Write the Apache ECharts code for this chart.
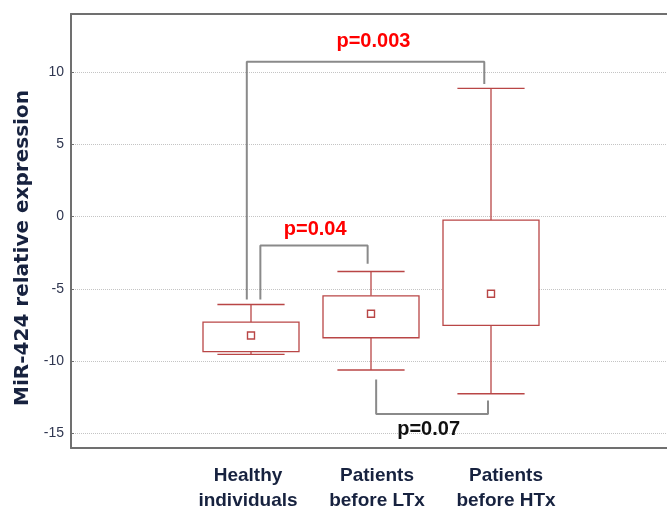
<!DOCTYPE html>
<html><head><meta charset="utf-8">
<script src="https://cdn.jsdelivr.net/npm/echarts@6/dist/echarts.min.js"></script>
<style>html,body{margin:0;padding:0;background:#fff}#c{width:667px;height:506px}</style>
</head><body><div id="c"></div>
<script>
// ---- data ----
const categories = ['', 'Healthy\nindividuals', 'Patients\nbefore LTx', 'Patients\nbefore HTx', ''];
const groupIndex = [1, 2, 3];
const whiskerLow = [-9.53, -10.61, -12.25];
const boxLow = [-9.34, -8.38, -7.53];
const means = [-8.22, -6.72, -5.34];
const boxHigh = [-7.30, -5.48, -0.25];
const whiskerHigh = [-6.08, -3.80, 8.86];
const yTicks = [-15, -10, -5, 0, 5, 10];
// significance brackets (x in category-index units, y in expression units)
const bracket1X = [0.965, 0.965, 2.944, 2.944];
const bracket1Y = [-5.73, 10.70, 10.70, 9.16];
const bracket2X = [1.078, 1.078, 1.972, 1.972];
const bracket2Y = [-5.73, -2.00, -2.00, -3.27];
const bracket3X = [2.043, 2.043, 2.975, 2.975];
const bracket3Y = [-11.26, -13.65, -13.65, -12.71];
const pLabels = ['p=0.003', 'p=0.04', 'p=0.07'];
const pLabelX = [2.02, 1.535, 2.48];
const pLabelY = [12.1, -0.9, -14.75];

// ---- styles ----
const boxColor = '#b94646';
const bracketColor = '#8a8a8a';
const pColors = ['#ff0000', '#ff0000', '#111111'];
const navy = '#17223f';

const boxData = groupIndex.map((g, i) => [g, whiskerLow[i], boxLow[i], means[i], boxHigh[i], whiskerHigh[i]]);
const zip = (xs, ys) => xs.map((x, i) => [x, ys[i]]);
const textData = pLabels.map((t, i) => [pLabelX[i], pLabelY[i], i]);

const chart = echarts.init(document.getElementById('c'), null, {renderer: 'canvas'});
const labelBase = {fontFamily: 'Liberation Sans', fontWeight: 'bold', fontSize: 19, color: navy, lineHeight: 25};
const axisLineStyle = {color: '#707070', width: 2};

function bracket(data) {
  return {type: 'line', xAxisIndex: 2, yAxisIndex: 0, data, symbol: 'none', silent: true,
    lineStyle: {color: bracketColor, width: 2}, z: 3, animation: false};
}

chart.setOption({
  animation: false,
  grid: {left: 71, right: -4, top: 14, bottom: 58, containLabel: false, outerBoundsMode: 'none'},
  xAxis: [
    {type: 'category', data: categories, position: 'bottom',
     axisLine: {onZero: false, lineStyle: axisLineStyle}, axisTick: {inside: true, alignWithLabel: true, length: 4, lineStyle: {color: '#707070'}},
     splitLine: {show: false},
     axisLabel: {interval: 0, margin: 15,
       formatter: (v, i) => { if (!v) return ''; const k = ['', 'a', 'b', 'c', ''][i]; return v.split('\n').map(s => '{' + k + '|' + s + '}').join('\n'); },
       rich: {a: Object.assign({}, labelBase, {padding: [0, 6, 0, 0]}),
              b: Object.assign({}, labelBase, {padding: [0, 0, 0, 12]}),
              c: Object.assign({}, labelBase, {padding: [0, 0, 0, 30]})}}},
    {type: 'category', data: categories, position: 'top',
     axisLine: {onZero: false, lineStyle: axisLineStyle}, axisTick: {inside: true, alignWithLabel: true, length: 4, lineStyle: {color: '#707070'}},
     axisLabel: {show: false}, splitLine: {show: false}},
    {type: 'value', min: -0.5, max: 4.5, show: false, axisLine: {onZero: false}}
  ],
  yAxis: [{
    type: 'value', min: -16, max: 14, splitNumber: 6, position: 'left',
    name: 'MiR-424 relative expression', nameLocation: 'middle', nameGap: 37,
    nameTextStyle: {fontFamily: 'DejaVu Sans', fontWeight: 'bold', fontSize: 20, color: navy, padding: [0, 34, 0, 0]},
    axisLine: {show: true, onZero: false, lineStyle: axisLineStyle},
    axisTick: {show: true, inside: true, length: 3, lineStyle: {color: '#707070'}},
    axisLabel: {margin: 7, fontFamily: 'Liberation Sans', fontSize: 14, color: '#2f3650',
      showMinLabel: false, showMaxLabel: false,
      formatter: v => yTicks.indexOf(v) >= 0 ? String(v) : ''},
    splitLine: {show: true, lineStyle: {color: '#c4c4c4', type: 'dotted', width: 1}}
  }],
  series: [
    {type: 'custom', xAxisIndex: 0, yAxisIndex: 0, data: boxData, z: 4,
     encode: {x: 0, y: [1, 2, 3, 4, 5]},
     renderItem: function (params, api) {
       const x = api.value(0);
       const band = api.size([1, 0])[0];
       const boxW = band * 0.8, capW = band * 0.56;
       const wl = api.coord([x, api.value(1)]);
       const bl = api.coord([x, api.value(2)]);
       const m = api.coord([x, api.value(3)]);
       const bh = api.coord([x, api.value(4)]);
       const wh = api.coord([x, api.value(5)]);
       const cx = wl[0];
       const st = {stroke: boxColor, lineWidth: 1.3, fill: null};
       return {type: 'group', children: [
         {type: 'line', shape: {x1: cx, y1: wh[1], x2: cx, y2: bh[1]}, style: st},
         {type: 'line', shape: {x1: cx, y1: bl[1], x2: cx, y2: wl[1]}, style: st},
         {type: 'line', shape: {x1: cx - capW / 2, y1: wh[1], x2: cx + capW / 2, y2: wh[1]}, style: st},
         {type: 'line', shape: {x1: cx - capW / 2, y1: wl[1], x2: cx + capW / 2, y2: wl[1]}, style: st},
         {type: 'rect', shape: {x: cx - boxW / 2, y: bh[1], width: boxW, height: bl[1] - bh[1]}, style: {stroke: boxColor, lineWidth: 1.3, fill: '#fff'}},
         {type: 'rect', shape: {x: cx - 3.5, y: m[1] - 3.5, width: 7, height: 7}, style: {stroke: boxColor, lineWidth: 1.4, fill: '#fff'}}
       ]};
     }},
    bracket(zip(bracket1X, bracket1Y)),
    bracket(zip(bracket2X, bracket2Y)),
    bracket(zip(bracket3X, bracket3Y)),
    {type: 'custom', xAxisIndex: 2, yAxisIndex: 0, data: textData, z: 5, silent: true,
     renderItem: function (params, api) {
       const p = api.coord([api.value(0), api.value(1)]);
       const i = api.value(2);
       return {type: 'text', x: p[0], y: p[1], style: {text: pLabels[i], fill: pColors[i],
         font: 'bold 20px "Liberation Sans"', textAlign: 'center', textVerticalAlign: 'middle'}};
     }}
  ]
});
</script></body></html>
